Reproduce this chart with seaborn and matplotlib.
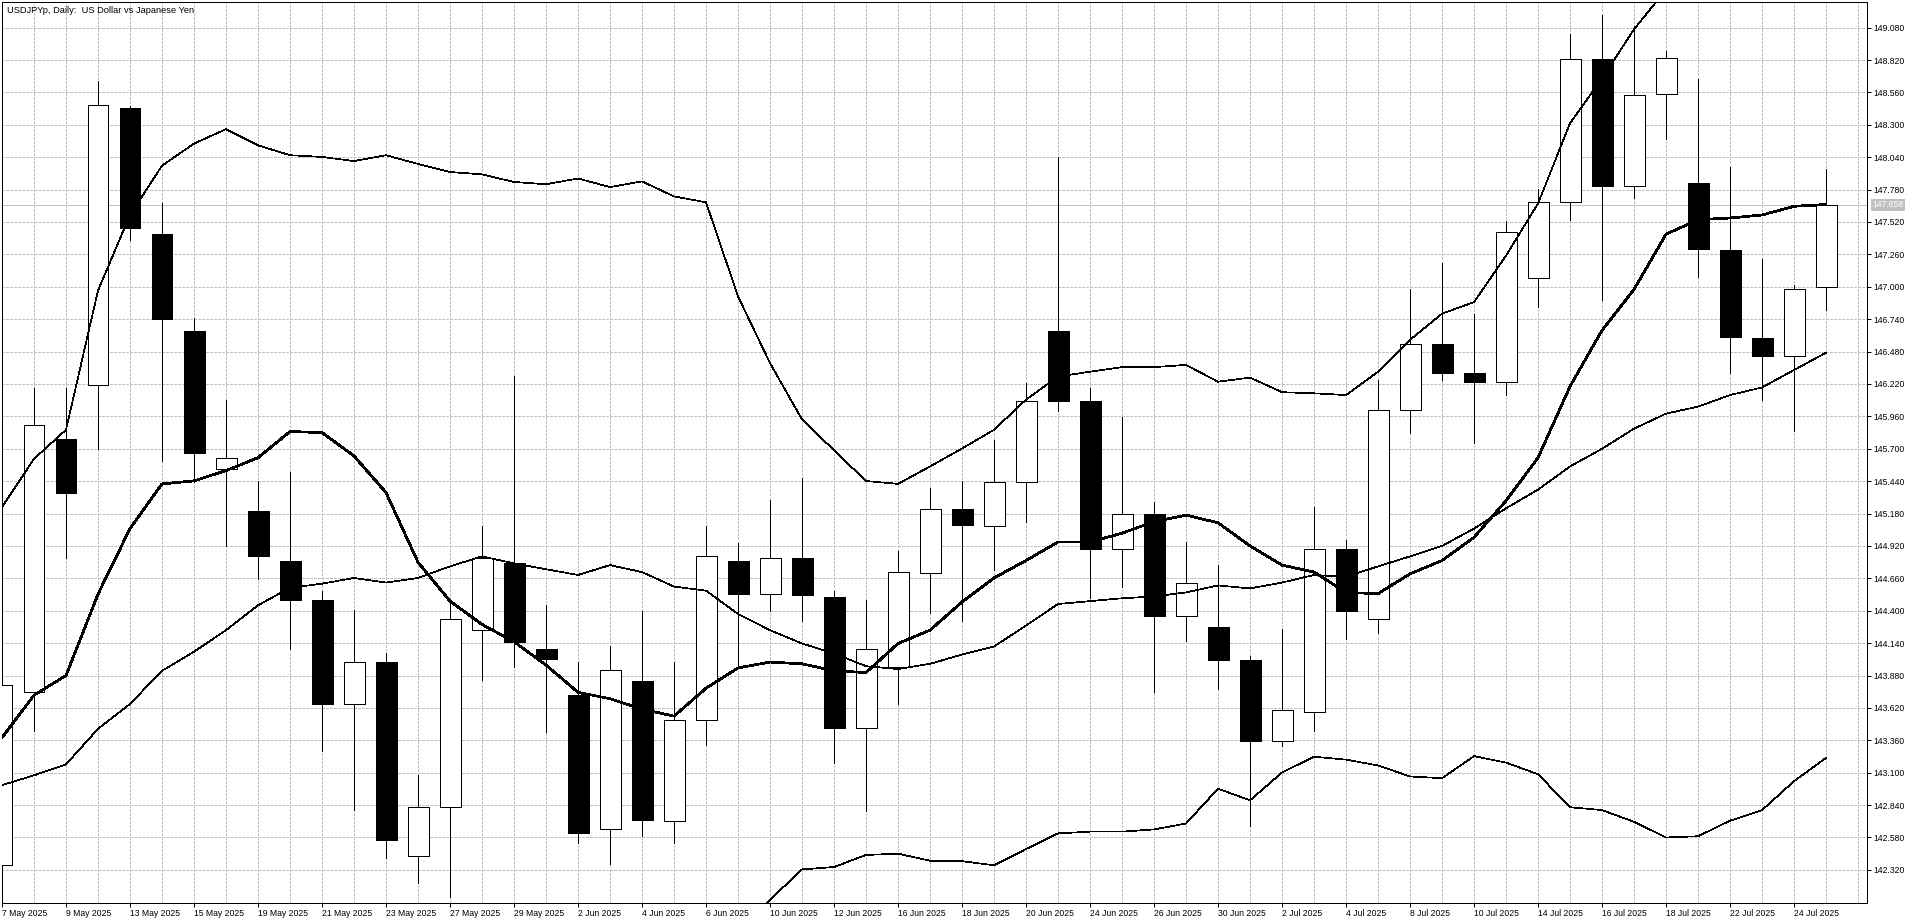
import numpy as np
import pandas as pd
import matplotlib
matplotlib.use("Agg")
import matplotlib.pyplot as plt
import matplotlib.transforms as mtransforms
import seaborn as sns

# ---------------- data ----------------
dates = ["7 May 2025", "8 May 2025", "9 May 2025", "12 May 2025", "13 May 2025", "14 May 2025",
         "15 May 2025", "16 May 2025", "19 May 2025", "20 May 2025", "21 May 2025", "22 May 2025",
         "23 May 2025", "26 May 2025", "27 May 2025", "28 May 2025", "29 May 2025", "30 May 2025",
         "2 Jun 2025", "3 Jun 2025", "4 Jun 2025", "5 Jun 2025", "6 Jun 2025", "9 Jun 2025",
         "10 Jun 2025", "11 Jun 2025", "12 Jun 2025", "13 Jun 2025", "16 Jun 2025", "17 Jun 2025",
         "18 Jun 2025", "19 Jun 2025", "20 Jun 2025", "23 Jun 2025", "24 Jun 2025", "25 Jun 2025",
         "26 Jun 2025", "27 Jun 2025", "30 Jun 2025", "1 Jul 2025", "2 Jul 2025", "3 Jul 2025",
         "4 Jul 2025", "7 Jul 2025", "8 Jul 2025", "9 Jul 2025", "10 Jul 2025", "11 Jul 2025",
         "14 Jul 2025", "15 Jul 2025", "16 Jul 2025", "17 Jul 2025", "18 Jul 2025", "21 Jul 2025",
         "22 Jul 2025", "23 Jul 2025", "24 Jul 2025", "25 Jul 2025"]

open_ = [142.36, 143.745, 145.78, 146.21, 148.438, 147.422, 146.648, 145.535, 145.199, 144.803,
         144.49, 143.652, 143.988, 142.43, 142.823, 144.244, 144.78, 144.09, 143.722, 142.645,
         143.834, 142.715, 143.522, 144.803, 144.537, 144.826, 144.514, 143.461, 143.95, 144.70,
         145.213, 145.083, 145.432, 146.644, 146.085, 144.892, 145.176, 144.36, 144.267, 144.006,
         143.358, 143.591, 144.896, 144.337, 146.015, 146.537, 146.304, 146.234, 147.072, 147.683,
         148.825, 147.809, 148.545, 147.832, 147.296, 146.588, 146.448, 147.0]
high = [143.85, 146.187, 146.187, 148.648, 148.45, 147.669, 146.751, 146.094, 145.441, 145.511,
        144.556, 144.407, 144.057, 143.079, 144.477, 145.083, 146.28, 144.444, 143.988, 144.113,
        144.398, 143.988, 145.083, 144.943, 145.292, 145.469, 144.556, 144.486, 144.882, 145.386,
        145.441, 145.772, 146.224, 148.042, 146.187, 145.954, 145.269, 144.952, 144.77, 144.034,
        144.253, 145.236, 144.966, 146.248, 146.984, 147.189, 146.784, 147.529, 147.785, 149.03,
        149.183, 149.09, 148.89, 148.671, 147.958, 147.226, 147.017, 147.945]
low = [142.30, 143.438, 144.826, 145.70, 147.375, 145.605, 145.432, 144.92, 144.654, 144.09,
       143.275, 142.80, 142.417, 142.217, 142.10, 143.848, 143.95, 143.428, 142.534, 142.371,
       142.59, 142.534, 143.321, 143.964, 144.398, 144.314, 143.181, 142.79, 143.648, 144.384,
       144.314, 144.724, 145.115, 146.0, 144.50, 144.594, 143.745, 144.16, 143.769, 142.673,
       143.312, 143.438, 144.174, 144.221, 145.83, 146.248, 145.749, 146.131, 146.839, 147.538,
       146.891, 147.716, 148.182, 147.077, 146.304, 146.094, 145.842, 146.814]
close = [143.80, 145.889, 145.348, 148.461, 147.469, 146.742, 145.665, 145.628, 144.84, 144.486,
         143.652, 143.988, 142.557, 142.823, 144.332, 144.826, 144.151, 144.011, 142.613, 143.927,
         142.72, 143.522, 144.836, 144.537, 144.826, 144.523, 143.461, 144.09, 144.71, 145.213,
         145.092, 145.432, 146.085, 146.085, 144.892, 145.176, 144.36, 144.626, 144.006, 143.358,
         143.605, 144.896, 144.398, 146.015, 146.537, 146.304, 146.234, 147.436, 147.683, 148.825,
         147.809, 148.54, 148.834, 147.305, 146.597, 146.443, 146.979, 147.658]

ma_thick = [143.382, 143.722, 143.88, 144.533, 145.059, 145.418, 145.442, 145.525, 145.628, 145.838,
            145.83, 145.642, 145.348, 144.789, 144.477, 144.29, 144.151, 143.964, 143.745, 143.694,
            143.61, 143.554, 143.778, 143.941, 143.988, 143.974, 143.918, 143.904, 144.137, 144.244,
            144.47, 144.663, 144.803, 144.952, 144.952, 145.022, 145.115, 145.167, 145.106, 144.92,
            144.766, 144.71, 144.547, 144.537, 144.696, 144.803, 144.989, 145.283, 145.628, 146.2,
            146.65, 146.979, 147.422, 147.538, 147.552, 147.576, 147.646, 147.66]
bb_upper = [145.232, 145.619, 145.852, 146.97, 147.576, 147.972, 148.149, 148.265, 148.135, 148.056,
            148.042, 148.009, 148.056, 147.986, 147.921, 147.902, 147.841, 147.823, 147.869, 147.8,
            147.846, 147.725, 147.678, 146.923, 146.387, 145.935, 145.688, 145.441, 145.418, 145.558,
            145.702, 145.852, 146.094, 146.28, 146.318, 146.355, 146.355, 146.373, 146.238, 146.271,
            146.154, 146.145, 146.131, 146.318, 146.574, 146.784, 146.877, 147.25, 147.669, 148.312,
            148.671, 149.067, 149.384, 149.486, 149.547, 149.584, 149.632, 149.723]
bb_middle = [143.0, 143.079, 143.167, 143.452, 143.652, 143.918, 144.071, 144.244, 144.444, 144.584,
             144.617, 144.663, 144.626, 144.663, 144.756, 144.836, 144.78, 144.733, 144.687, 144.766,
             144.71, 144.594, 144.561, 144.374, 144.244, 144.137, 144.057, 143.955, 143.932, 143.974,
             144.048, 144.113, 144.281, 144.454, 144.477, 144.50, 144.514, 144.547, 144.603, 144.579,
             144.626, 144.687, 144.673, 144.756, 144.836, 144.92, 145.059, 145.222, 145.372, 145.558,
             145.70, 145.861, 145.982, 146.038, 146.131, 146.192, 146.332, 146.471]
bb_lower = [140.768, 140.539, 140.482, 139.934, 139.728, 139.864, 139.993, 140.223, 140.753, 141.112,
            141.192, 141.317, 141.196, 141.34, 141.591, 141.77, 141.719, 141.643, 141.505, 141.732,
            141.574, 141.463, 141.444, 141.825, 142.08, 142.324, 142.343, 142.44, 142.45, 142.394,
            142.39, 142.357, 142.487, 142.613, 142.627, 142.627, 142.645, 142.692, 142.972, 142.878,
            143.102, 143.228, 143.205, 143.158, 143.07, 143.056, 143.233, 143.181, 143.088, 142.823,
            142.80, 142.706, 142.58, 142.59, 142.715, 142.80, 143.032, 143.219]

price_ticks = [142.320, 142.580, 142.840, 143.100, 143.360, 143.620, 143.880, 144.140, 144.400,
               144.660, 144.920, 145.180, 145.440, 145.700, 145.960, 146.220, 146.480, 146.740,
               147.000, 147.260, 147.520, 147.780, 148.040, 148.300, 148.560, 148.820, 149.080]
current_price = 147.658
title = "USDJPYp, Daily:  US Dollar vs Japanese Yen"

# ---------------- style ----------------
sns.set_theme(style="white")
plt.rcParams['font.family'] = ['Liberation Sans', 'DejaVu Sans']
plt.rcParams['lines.antialiased'] = False
plt.rcParams['patch.antialiased'] = False

W, H = 1920, 923
fig = plt.figure(figsize=(W / 100, H / 100), dpi=100, facecolor='white')
L, R, T, B = 2, 1867, 2, 903
ax = fig.add_axes([L / W, 1 - B / H, (R - L) / W, (B - T) / H])
ax.set_facecolor('white')

df = pd.DataFrame({"date": dates, "open": open_, "high": high, "low": low, "close": close,
                   "ma": ma_thick, "upper": bb_upper, "middle": bb_middle, "lower": bb_lower})
df["pos"] = np.arange(len(df))

px = 0.72  # one pixel in points
y_lo, y_hi = 142.0543, 149.2855
x_hi = 58.28
ax.set_xlim(0, x_hi)
ax.set_ylim(y_lo, y_hi)

# grid
grid_kw = dict(color='#c0c0c0', lw=px, linestyles=(0, (2.9, 1.45)), zorder=0.5, antialiased=False)
ax.hlines(price_ticks, 0, x_hi, **grid_kw)
ax.vlines(np.arange(1, 59), y_lo, y_hi, **grid_kw)

# current price line
ax.axhline(current_price, color='#c0c0c0', lw=px, zorder=1)

# candles
up = df["close"] >= df["open"]
ax.vlines(df["pos"], df["low"], df["high"], color='black', lw=px, zorder=2)
body_lo = np.minimum(df["open"], df["close"])
body_h = np.abs(df["close"] - df["open"])
ax.bar(df["pos"], body_h, bottom=body_lo, width=0.656,
       color=np.where(up, 'white', 'black'), edgecolor='black', linewidth=px, zorder=3)

# indicator lines (thin bands, thick moving average)
thin = 0.5
for col in ["upper", "middle", "lower"]:
    sns.lineplot(data=df, x="pos", y=col, ax=ax, color='black', linewidth=thin,
                 estimator=None, zorder=4)
sns.lineplot(data=df, x="pos", y="ma", ax=ax, color='black', linewidth=1.25,
             estimator=None, zorder=5)

# axes styling
for s in ax.spines.values():
    s.set_visible(True)
    s.set_color('black')
    s.set_linewidth(px)
ax.set_xlabel("")
ax.set_ylabel("")

ax.yaxis.tick_right()
ax.set_yticks(price_ticks)
ax.set_yticklabels([f"{v:.3f}" for v in price_ticks])
ax.tick_params(axis='y', which='both', right=True, left=False, direction='out', length=2.9,
               width=px, pad=1.8, labelsize=6.2, colors='black')

xt = df["pos"].values[::2]
ax.set_xticks(xt)
ax.set_xticklabels(df["date"].values[::2], ha='left')
ax.tick_params(axis='x', which='both', bottom=True, top=False, direction='out', length=2.9,
               width=px, pad=1.2, labelsize=6.2, colors='black')

# current price tag
off = mtransforms.offset_copy(mtransforms.blended_transform_factory(ax.transAxes, ax.transData),
                              fig=fig, x=5.2 * 0.72, y=0, units='points')
ax.text(1.0, current_price, f"{current_price:.3f}", transform=off, ha='left', va='center',
        fontsize=6.2, color='white', zorder=10, clip_on=False,
        bbox=dict(boxstyle='square,pad=0.18', fc='#c0c0c0', ec='none'))

# title
fig.text(7 / W, 1 - 13 / H, title, ha='left', va='baseline', fontsize=6.7, color='black')

fig.savefig("out.png", dpi=100, facecolor='white')
